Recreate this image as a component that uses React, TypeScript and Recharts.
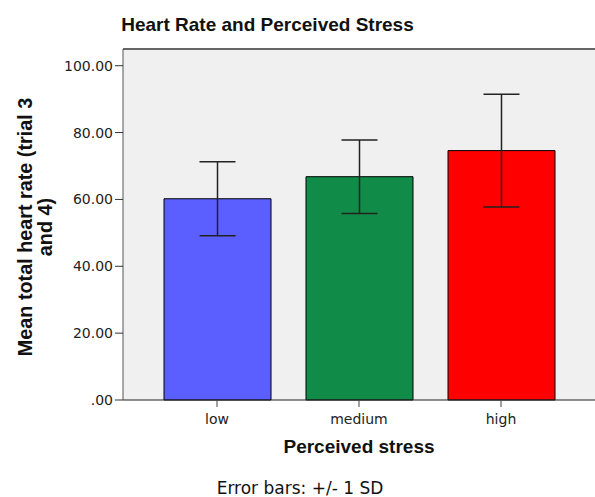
import React from 'react';
import { BarChart, Bar, XAxis, YAxis, CartesianGrid, ErrorBar, ReferenceLine, Cell } from 'recharts';

const categories = ['low', 'medium', 'high'];
const means = [60.2, 66.8, 74.6];
const sds = [11.1, 11.0, 16.9];
const barColors = ['#5b5fff', '#108c48', '#ff0000'];
const yTicks = [0, 20, 40, 60, 80, 100];

const data = categories.map((name, i) => ({ name, mean: means[i], sd: sds[i] }));

const fmtTick = (v: number) => (v === 0 ? '.00' : v.toFixed(2));

const font = '"DejaVu Sans", sans-serif';
const boldFont = '"Liberation Sans", Arial, sans-serif';

export default function App() {
  return (
    <div style={{ position: 'absolute', top: 0, left: 0, width: 595, height: 497, background: '#fff', fontFamily: font }}>
      <BarChart
        width={595}
        height={497}
        data={data}
        margin={{ top: 49, right: 0, bottom: 67, left: 0 }}
        barSize={107}
      >
        <CartesianGrid horizontal={false} vertical={false} fill="#f0f0f0" />
        <XAxis
          dataKey="name"
          height={30}
          padding={{ left: 23, right: 23 }}
          stroke="#222"
          tickLine={{ stroke: '#444' }}
          tickSize={7}
          tick={{ fill: '#222', fontSize: 14, fontFamily: font, dy: 5 }}
        />
        <YAxis
          width={123}
          domain={[0, 105]}
          ticks={yTicks}
          tickFormatter={fmtTick}
          stroke="#555"
          tickLine={{ stroke: '#333' }}
          tickSize={8}
          tick={{ fill: '#222', fontSize: 14, fontFamily: font }}
        />
        <ReferenceLine y={105} stroke="#666" strokeWidth={2} />
        <Bar dataKey="mean" stroke="#000" strokeWidth={1} isAnimationActive={false}>
          {data.map((d, i) => (
            <Cell key={d.name} fill={barColors[i]} />
          ))}
          <ErrorBar dataKey="sd" width={18} stroke="#222" strokeWidth={1.5} />
        </Bar>
      </BarChart>
      <div style={{ position: 'absolute', left: 0, width: 535, top: 14, textAlign: 'center', fontFamily: boldFont, fontWeight: 'bold', fontSize: 19, color: '#111' }}>
        Heart Rate and Perceived Stress
      </div>
      <div style={{ position: 'absolute', left: 123, width: 472, top: 436, textAlign: 'center', fontFamily: boldFont, fontWeight: 'bold', fontSize: 19, color: '#111' }}>
        Perceived stress
      </div>
      <div style={{ position: 'absolute', left: 0, width: 600, top: 478, textAlign: 'center', fontSize: 17, color: '#111' }}>
        Error bars: +/- 1 SD
      </div>
      <div
        style={{
          position: 'absolute',
          left: 35 - 150,
          top: 227 - 20,
          width: 300,
          height: 40,
          transform: 'rotate(-90deg)',
          transformOrigin: '150px 20px',
          textAlign: 'center',
          fontFamily: boldFont,
          fontWeight: 'bold',
          fontSize: 19.8,
          lineHeight: '20px',
          color: '#111',
        }}
      >
        Mean total heart rate (trial 3
        <br />
        and 4)
      </div>
    </div>
  );
}
